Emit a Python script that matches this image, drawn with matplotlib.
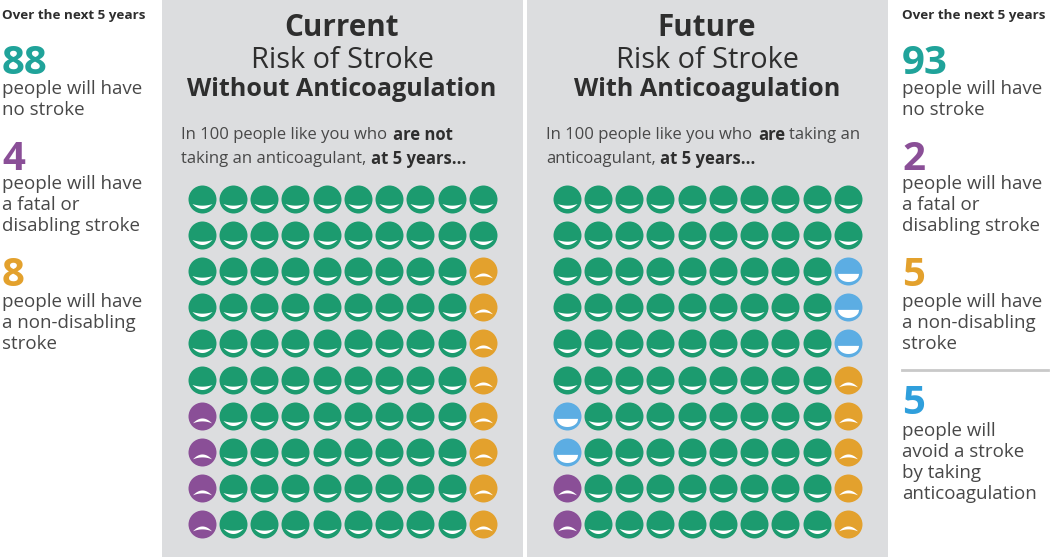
import numpy as np
import matplotlib
matplotlib.use("Agg")
import matplotlib.pyplot as plt
from matplotlib.path import Path
from matplotlib.patches import Rectangle

plt.rcParams['font.family'] = ['Open Sans', 'DejaVu Sans']

# G no stroke, P fatal or disabling, O non-disabling, B avoided
current_grid = [
    "GGGGGGGGGG",
    "GGGGGGGGGG",
    "GGGGGGGGGO",
    "GGGGGGGGGO",
    "GGGGGGGGGO",
    "GGGGGGGGGO",
    "PGGGGGGGGO",
    "PGGGGGGGGO",
    "PGGGGGGGGO",
    "PGGGGGGGGO",
]
future_grid = [
    "GGGGGGGGGG",
    "GGGGGGGGGG",
    "GGGGGGGGGB",
    "GGGGGGGGGB",
    "GGGGGGGGGB",
    "GGGGGGGGGO",
    "BGGGGGGGGO",
    "BGGGGGGGGO",
    "PGGGGGGGGO",
    "PGGGGGGGGO",
]
left_numbers = ["88", "4", "8"]
right_numbers = ["93", "2", "5", "5"]
left_labels = ["people will have\nno stroke",
               "people will have\na fatal or\ndisabling stroke",
               "people will have\na non-disabling\nstroke"]
right_labels = left_labels + ["people will\navoid a stroke\nby taking\nanticoagulation"]

GREEN = "#1c9b6f"
PURPLE = "#8a4f97"
ORANGE = "#e3a12d"
BLUE = "#5cade3"
TEAL = "#20a39a"
BLUE_NUM = "#2f9fdc"
PANEL = "#dcdddf"
DARK = "#2e2e2e"
GREY = "#484848"
FACE_SIZE = 406
colors = {"G": GREEN, "P": PURPLE, "O": ORANGE, "B": BLUE}


def mouth_path(x, top, bottom):
    # corner points at the edges keep matplotlib from rescaling the marker,
    # so the mouth stays in units of the face radius
    xs = np.r_[1, 1, x, x[::-1], x[0]]
    ys = np.r_[0, 0, top, bottom[::-1], top[0]]
    codes = [Path.MOVETO, Path.LINETO, Path.MOVETO] + [Path.LINETO] * (len(xs) - 3)
    return Path(np.c_[xs, ys], codes)


t = np.linspace(-1, 1, 30)
smile = mouth_path(0.72 * t, -0.32 - 0.12 * (1 - t ** 2), -0.32 - 0.36 * (1 - t ** 2))
frown = mouth_path(0.68 * t, -0.49 + 0.35 * (1 - t ** 2), -0.49 + 0.14 * (1 - t ** 2))
flat = mouth_path(0.76 * t, -0.17 + 0 * t, -0.17 - 0.58 * np.sqrt(1 - t ** 2))
mouths = {"G": smile, "P": frown, "O": frown, "B": flat}

fig = plt.figure(figsize=(10.5, 5.59), dpi=100)
ax = fig.add_axes([0, 0, 1, 1])
ax.set_xlim(0, 1050)
ax.set_ylim(559, 0)
ax.axis('off')

ax.add_patch(Rectangle((162, 0), 361, 557, color=PANEL, lw=0))
ax.add_patch(Rectangle((527, 0), 361, 557, color=PANEL, lw=0))


def draw_grid(grid, left):
    # grid gets its own axes so the faces sit on row / column numbers
    g = fig.add_axes([left / 1050, (559 - 542) / 559, 312.6 / 1050, 361 / 559])
    g.set_xlim(-0.5, 9.5)
    g.set_ylim(9.5, -0.5)
    g.axis('off')
    g.patch.set_alpha(0)
    for kind in colors:
        rows, cols = [], []
        for r, line in enumerate(grid):
            for c, k in enumerate(line):
                if k == kind:
                    rows.append(r)
                    cols.append(c)
        g.scatter(cols, rows, s=FACE_SIZE, color=colors[kind], linewidths=0, zorder=2)
        g.scatter(cols, rows, s=FACE_SIZE, marker=mouths[kind],
                  color="white", linewidths=0, zorder=3)


draw_grid(current_grid, 186)
draw_grid(future_grid, 551)


def title(x, top, middle, bottom):
    ax.text(x, 28, top, ha='center', va='center', fontsize=21.3, fontweight='bold', color=DARK)
    ax.text(x, 60, middle, ha='center', va='center', fontsize=20.8, color=DARK)
    ax.text(x, 90, bottom, ha='center', va='center', fontsize=18.1, fontweight='bold', color=DARK)


title(342, "Current", "Risk of Stroke", "Without Anticoagulation")
title(707, "Future", "Risk of Stroke", "With Anticoagulation")

ax.text(181, 135, "In 100 people like you who", va='center', fontsize=12, color=GREY)
ax.text(393, 135, "are not", va='center', fontsize=12, fontweight='bold', color=DARK)
ax.text(181, 159, "taking an anticoagulant,", va='center', fontsize=12, color=GREY)
ax.text(371, 159, "at 5 years...", va='center', fontsize=12, fontweight='bold', color=DARK)

ax.text(546, 135, "In 100 people like you who", va='center', fontsize=12, color=GREY)
ax.text(758, 135, "are", va='center', fontsize=12, fontweight='bold', color=DARK)
ax.text(789, 135, "taking an", va='center', fontsize=12, color=GREY)
ax.text(546, 159, "anticoagulant,", va='center', fontsize=12, color=GREY)
ax.text(660, 159, "at 5 years...", va='center', fontsize=12, fontweight='bold', color=DARK)


def side(x, numbers, labels):
    ax.text(x, 15, "Over the next 5 years", va='center', fontsize=9.7, fontweight='bold', color=DARK)
    num_colors = [TEAL, PURPLE, ORANGE, BLUE_NUM]
    num_y = [63, 159, 276, 404]
    lab_y = [80, 175, 293, 422]
    for n, lab, col, y, ly in zip(numbers, labels, num_colors, num_y, lab_y):
        ax.text(x, y, n, va='center', fontsize=29, fontweight='bold', color=col)
        ax.text(x, ly, lab, va='top', fontsize=13.5, color=GREY, linespacing=1.22)


side(2, left_numbers, left_labels)
side(902, right_numbers, right_labels)
ax.plot([902, 1048], [370, 370], color="#c9c9c9", lw=2)

fig.savefig("out.png", dpi=100)
